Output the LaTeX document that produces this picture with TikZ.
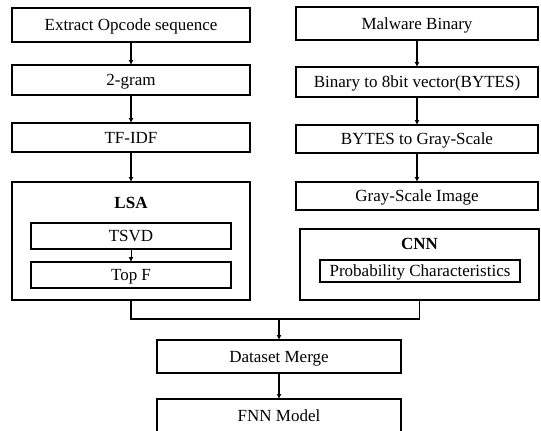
\documentclass[tikz,border=0pt]{standalone}
\usepackage{fontspec}
\setmainfont{Liberation Serif}
\usetikzlibrary{arrows.meta}

\tikzset{
  box/.style={draw=black, line width=1.6pt, rectangle, inner sep=0pt, outer sep=0pt,
              font=\fontsize{17}{20}\selectfont, align=center,
              text height=11.5pt, text depth=0pt},
  innerbox/.style={draw=black, line width=1.3pt, rectangle, inner sep=0pt, outer sep=0pt,
              font=\fontsize{17}{20}\selectfont, align=center,
              text height=11.5pt, text depth=0pt},
  title/.style={font=\fontsize{17}{20}\selectfont\bfseries, inner sep=0pt,
              text height=11.5pt, text depth=0pt},
  arr/.style={line width=1.4pt, -{Latex[length=5pt,width=5pt]}},
  link/.style={line width=1.4pt},
}

\begin{document}
\begin{tikzpicture}[x=1pt, y=-1pt]
  \useasboundingbox (0,0) rectangle (541,431);
  \clip (0,0) rectangle (541,431);

  % opcode branch
  \node[box, minimum width=238pt, minimum height=34pt] (ext) at (131,25) {Extract Opcode sequence};
  \node[box, minimum width=238pt, minimum height=30pt] (gram) at (131,80) {2-gram};
  \node[box, minimum width=238pt, minimum height=29pt] (tfidf) at (131,137.5) {TF-IDF};
  \node[box, minimum width=238pt, minimum height=118pt] (lsa) at (131,241) {};
  \node[title] (lsat) at (131,203) {LSA};
  \node[innerbox, minimum width=200pt, minimum height=26pt] (tsvd) at (131,236) {TSVD};
  \node[innerbox, minimum width=200pt, minimum height=26pt] (topf) at (131,275) {Top F};

  % image branch
  \node[box, minimum width=242pt, minimum height=33pt] (mal) at (417,23.5) {Malware Binary};
  \node[box, minimum width=242pt, minimum height=30pt] (bin) at (417,82) {Binary to 8bit vector(BYTES)};
  \node[box, minimum width=242pt, minimum height=28pt] (bytes) at (417,139) {BYTES to Gray-Scale};
  \node[box, minimum width=242pt, minimum height=28pt] (gray) at (417,196) {Gray-Scale Image};
  \node[box, minimum width=239pt, minimum height=71pt] (cnn) at (419.5,264.5) {};
  \node[title] (cnnt) at (419.5,244) {CNN};
  \node[innerbox, minimum width=200pt, minimum height=22pt] (prob) at (420,271) {Probability Characteristics};

  % merged part
  \node[box, minimum width=244pt, minimum height=33pt] (merge) at (279,356.5) {Dataset Merge};
  \node[box, minimum width=244pt, minimum height=34pt] (fnn) at (279,416) {FNN Model};

  % arrows
  \draw[arr] (ext) -- (gram);
  \draw[arr] (gram) -- (tfidf);
  \draw[arr] (tfidf) -- (lsa);
  \draw[arr, line width=1pt] (tsvd) -- (topf);
  \draw[arr] (mal) -- (bin);
  \draw[arr] (bin) -- (bytes);
  \draw[arr] (bytes) -- (gray);

  \coordinate (jl) at (131,319);
  \coordinate (jr) at (419.5,319);
  \coordinate (jm) at (279,319);
  \draw[link] (lsa.south) -- (jl) -- (jr) -- (cnn.south);
  \draw[arr] (jm) -- (merge);
  \draw[arr] (merge) -- (fnn);
\end{tikzpicture}
\end{document}
